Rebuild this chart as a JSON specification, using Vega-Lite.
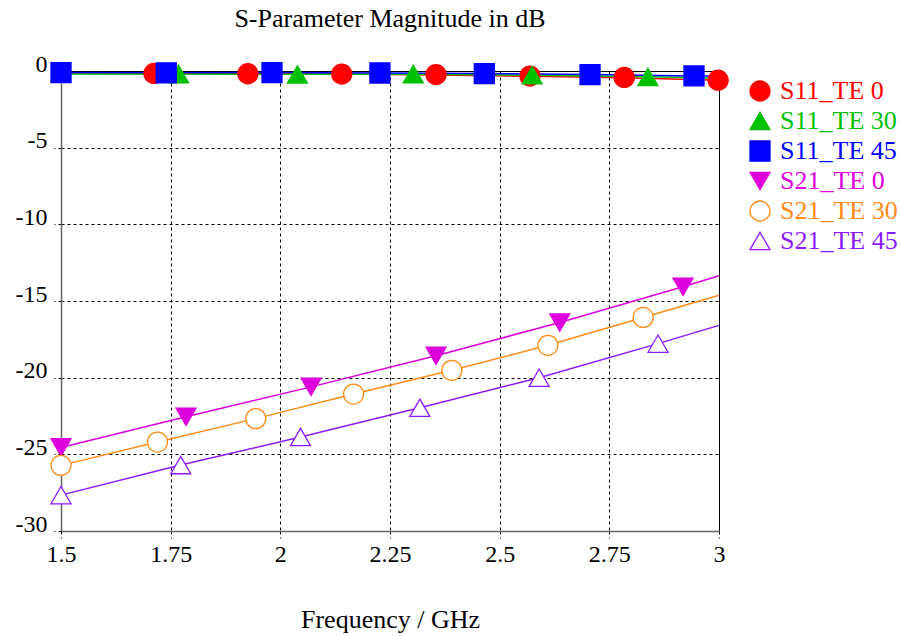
{
  "$schema": "https://vega.github.io/schema/vega-lite/v6.json",
  "width": 658,
  "height": 460,
  "autosize": {"type": "none"},
  "padding": {"left": 61, "top": 71, "right": 182, "bottom": 105},
  "background": "white",
  "config": {
    "font": "Liberation Serif",
    "view": {"stroke": "#000", "strokeWidth": 1},
    "legend": {
      "labelFont": "Liberation Serif",
      "labelFontSize": 26,
      "labelOffset": 7,
      "symbolSize": 400,
      "symbolStrokeWidth": 1.3,
      "rowPadding": 4,
      "padding": 0,
      "labelLimit": 300
    }
  },
  "title": {
    "text": "S-Parameter Magnitude in dB",
    "fontSize": 26,
    "fontWeight": "normal",
    "font": "Liberation Serif",
    "color": "#000",
    "anchor": "middle",
    "offset": 20
  },
  "datasets": {
    "curves": [
      {"series": "S11_TE 0", "f": 1.5, "db": -0.15},
      {"series": "S11_TE 0", "f": 1.712, "db": -0.16},
      {"series": "S11_TE 0", "f": 1.926, "db": -0.18},
      {"series": "S11_TE 0", "f": 2.14, "db": -0.2},
      {"series": "S11_TE 0", "f": 2.355, "db": -0.26},
      {"series": "S11_TE 0", "f": 2.569, "db": -0.35},
      {"series": "S11_TE 0", "f": 2.784, "db": -0.44},
      {"series": "S11_TE 0", "f": 3.0, "db": -0.6},
      {"series": "S11_TE 30", "f": 1.5, "db": -0.2},
      {"series": "S11_TE 30", "f": 1.768, "db": -0.2},
      {"series": "S11_TE 30", "f": 2.039, "db": -0.22},
      {"series": "S11_TE 30", "f": 2.303, "db": -0.22},
      {"series": "S11_TE 30", "f": 2.574, "db": -0.28},
      {"series": "S11_TE 30", "f": 2.838, "db": -0.38},
      {"series": "S11_TE 30", "f": 3.0, "db": -0.48},
      {"series": "S11_TE 45", "f": 1.5, "db": -0.1},
      {"series": "S11_TE 45", "f": 1.74, "db": -0.12},
      {"series": "S11_TE 45", "f": 1.981, "db": -0.1},
      {"series": "S11_TE 45", "f": 2.227, "db": -0.13},
      {"series": "S11_TE 45", "f": 2.465, "db": -0.17},
      {"series": "S11_TE 45", "f": 2.706, "db": -0.23},
      {"series": "S11_TE 45", "f": 2.943, "db": -0.32},
      {"series": "S11_TE 45", "f": 3.0, "db": -0.33},
      {"series": "S21_TE 0", "f": 1.5, "db": -24.55},
      {"series": "S21_TE 0", "f": 1.785, "db": -22.55},
      {"series": "S21_TE 0", "f": 2.07, "db": -20.6},
      {"series": "S21_TE 0", "f": 2.355, "db": -18.57},
      {"series": "S21_TE 0", "f": 2.637, "db": -16.4},
      {"series": "S21_TE 0", "f": 2.918, "db": -14.07},
      {"series": "S21_TE 0", "f": 3.0, "db": -13.35},
      {"series": "S21_TE 30", "f": 1.5, "db": -25.72},
      {"series": "S21_TE 30", "f": 1.72, "db": -24.2},
      {"series": "S21_TE 30", "f": 1.944, "db": -22.67},
      {"series": "S21_TE 30", "f": 2.167, "db": -21.07},
      {"series": "S21_TE 30", "f": 2.391, "db": -19.52},
      {"series": "S21_TE 30", "f": 2.61, "db": -17.89},
      {"series": "S21_TE 30", "f": 2.827, "db": -16.07},
      {"series": "S21_TE 30", "f": 3.0, "db": -14.63},
      {"series": "S21_TE 45", "f": 1.5, "db": -27.66},
      {"series": "S21_TE 45", "f": 1.773, "db": -25.7},
      {"series": "S21_TE 45", "f": 2.046, "db": -23.87},
      {"series": "S21_TE 45", "f": 2.318, "db": -21.96},
      {"series": "S21_TE 45", "f": 2.59, "db": -20.0},
      {"series": "S21_TE 45", "f": 2.861, "db": -17.78},
      {"series": "S21_TE 45", "f": 3.0, "db": -16.59}
    ],
    "markers": [
      {"series": "S11_TE 0", "f": 1.712, "db": -0.16},
      {"series": "S11_TE 0", "f": 1.926, "db": -0.18},
      {"series": "S11_TE 0", "f": 2.14, "db": -0.2},
      {"series": "S11_TE 0", "f": 2.355, "db": -0.23},
      {"series": "S11_TE 0", "f": 2.569, "db": -0.33},
      {"series": "S11_TE 0", "f": 2.784, "db": -0.42},
      {"series": "S11_TE 0", "f": 2.998, "db": -0.6},
      {"series": "S11_TE 30", "f": 1.768, "db": -0.2},
      {"series": "S11_TE 30", "f": 2.039, "db": -0.22},
      {"series": "S11_TE 30", "f": 2.303, "db": -0.2},
      {"series": "S11_TE 30", "f": 2.574, "db": -0.28},
      {"series": "S11_TE 30", "f": 2.838, "db": -0.39},
      {"series": "S11_TE 45", "f": 1.5, "db": -0.1},
      {"series": "S11_TE 45", "f": 1.74, "db": -0.12},
      {"series": "S11_TE 45", "f": 1.981, "db": -0.1},
      {"series": "S11_TE 45", "f": 2.227, "db": -0.13},
      {"series": "S11_TE 45", "f": 2.465, "db": -0.17},
      {"series": "S11_TE 45", "f": 2.706, "db": -0.23},
      {"series": "S11_TE 45", "f": 2.943, "db": -0.32},
      {"series": "S21_TE 0", "f": 1.5, "db": -24.55},
      {"series": "S21_TE 0", "f": 1.785, "db": -22.55},
      {"series": "S21_TE 0", "f": 2.07, "db": -20.6},
      {"series": "S21_TE 0", "f": 2.355, "db": -18.57},
      {"series": "S21_TE 0", "f": 2.637, "db": -16.4},
      {"series": "S21_TE 0", "f": 2.918, "db": -14.07},
      {"series": "S21_TE 30", "f": 1.5, "db": -25.72},
      {"series": "S21_TE 30", "f": 1.72, "db": -24.2},
      {"series": "S21_TE 30", "f": 1.944, "db": -22.67},
      {"series": "S21_TE 30", "f": 2.167, "db": -21.07},
      {"series": "S21_TE 30", "f": 2.391, "db": -19.52},
      {"series": "S21_TE 30", "f": 2.61, "db": -17.89},
      {"series": "S21_TE 30", "f": 2.827, "db": -16.07},
      {"series": "S21_TE 45", "f": 1.5, "db": -27.66},
      {"series": "S21_TE 45", "f": 1.773, "db": -25.7},
      {"series": "S21_TE 45", "f": 2.046, "db": -23.87},
      {"series": "S21_TE 45", "f": 2.318, "db": -21.96},
      {"series": "S21_TE 45", "f": 2.59, "db": -20.0},
      {"series": "S21_TE 45", "f": 2.861, "db": -17.78}
    ]
  },
  "encoding": {
    "x": {
      "field": "f",
      "type": "quantitative",
      "scale": {"domain": [1.5, 3], "nice": false, "zero": false},
      "axis": {
        "values": [1.5, 1.75, 2, 2.25, 2.5, 2.75, 3],
        "labelExpr": "'' + datum.value",
        "title": "Frequency / GHz",
        "titleFontSize": 26,
        "titleFontWeight": "normal",
        "titleColor": "#000",
        "titleFont": "Liberation Serif",
        "titlePadding": 40,
        "labelFontSize": 24,
        "labelFont": "Liberation Serif",
        "labelColor": "#000",
        "labelPadding": 4,
        "labelFlush": false,
        "labelOverlap": false,
        "tickSize": 7,
        "tickColor": "#000",
        "tickDash": [3, 3],
        "grid": true,
        "gridColor": "#000",
        "gridDash": [3, 3],
        "gridOpacity": 1,
        "domainColor": "#666",
        "domainWidth": 1.5
      }
    },
    "y": {
      "field": "db",
      "type": "quantitative",
      "scale": {"domain": [-30, 0], "nice": false, "zero": false},
      "axis": {
        "values": [-30, -25, -20, -15, -10, -5, 0],
        "labelExpr": "'' + datum.value",
        "title": null,
        "labelFontSize": 24,
        "labelFont": "Liberation Serif",
        "labelColor": "#000",
        "labelPadding": 7,
        "labelBaseline": "alphabetic",
        "labelFlush": false,
        "labelOverlap": false,
        "tickSize": 7,
        "tickColor": "#000",
        "tickDash": [3, 3],
        "grid": true,
        "gridColor": "#000",
        "gridDash": [3, 3],
        "gridOpacity": 1,
        "domainColor": "#666",
        "domainWidth": 1.5
      }
    }
  },
  "layer": [
    {
      "data": {"name": "curves"},
      "mark": {"type": "line", "strokeWidth": 1.5},
      "encoding": {
        "stroke": {
          "field": "series",
          "type": "nominal",
          "scale": {
            "domain": ["S11_TE 0", "S11_TE 30", "S11_TE 45", "S21_TE 0", "S21_TE 30", "S21_TE 45"],
            "range": ["#FF0000", "#00C000", "#0000FF", "#DD00DD", "#FF8C1A", "#8C1AFF"]
          },
          "legend": {
            "title": null,
            "orient": "none",
            "legendX": 686,
            "legendY": 7,
            "labelColor": {"expr": "scale('stroke', datum.value)"}
          }
        }
      }
    },
    {
      "data": {"name": "markers"},
      "mark": {"type": "point", "size": 400, "strokeWidth": 1.3, "opacity": 1, "fillOpacity": 1},
      "encoding": {
        "stroke": {
          "field": "series",
          "type": "nominal",
          "legend": {
            "title": null,
            "orient": "none",
            "legendX": 686,
            "legendY": 7,
            "labelColor": {"expr": "scale('stroke', datum.value)"}
          }
        },
        "fill": {
          "field": "series",
          "type": "nominal",
          "scale": {
            "domain": ["S11_TE 0", "S11_TE 30", "S11_TE 45", "S21_TE 0", "S21_TE 30", "S21_TE 45"],
            "range": ["#FF0000", "#00C000", "#0000FF", "#DD00DD", "#FFFFFF", "#FFFFFF"]
          },
          "legend": {
            "title": null,
            "orient": "none",
            "legendX": 686,
            "legendY": 7,
            "labelColor": {"expr": "scale('stroke', datum.value)"}
          }
        },
        "shape": {
          "field": "series",
          "type": "nominal",
          "scale": {
            "domain": ["S11_TE 0", "S11_TE 30", "S11_TE 45", "S21_TE 0", "S21_TE 30", "S21_TE 45"],
            "range": ["circle", "triangle-up", "square", "triangle-down", "circle", "triangle-up"]
          },
          "legend": {
            "title": null,
            "orient": "none",
            "legendX": 686,
            "legendY": 7,
            "labelColor": {"expr": "scale('stroke', datum.value)"}
          }
        }
      }
    }
  ]
}
